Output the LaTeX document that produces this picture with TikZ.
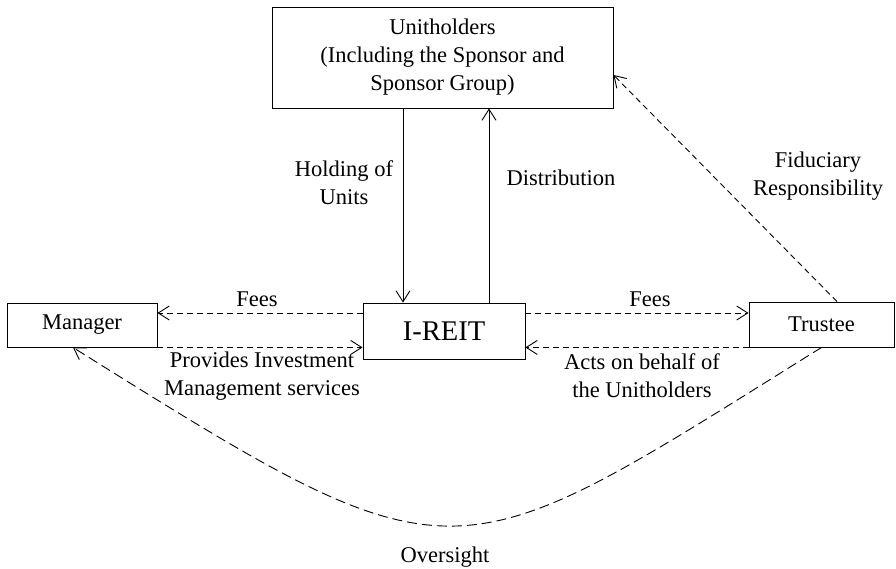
\documentclass[tikz,border=0pt]{standalone}
\usepackage{fontspec}
\setmainfont{Liberation Serif}
\usetikzlibrary{positioning,arrows.meta,calc}

\tikzset{
  box/.style={draw, line width=0.9pt, inner sep=0pt, align=center},
  arr/.style={line width=0.9pt, -{Straight Barb[length=11pt,width=14pt]}},
  darr/.style={arr, dash pattern=on 6pt off 4pt},
  ovarr/.style={arr, dash pattern=on 10pt off 5pt},
  lbl/.style={align=center}
}

\begin{document}
\begin{tikzpicture}[x=1pt, y=-1pt, font=\fontsize{22.5}{28}\selectfont]
    \useasboundingbox (0,0) rectangle (896,569);
    % parties
    \node[box, minimum width=341pt, minimum height=101pt] (uh) at (442.5,57.5)
      {Unitholders\\(Including the Sponsor and\\Sponsor Group)};
    \node[box, minimum width=162pt, minimum height=56pt, font=\fontsize{28.5}{30}\selectfont] (ireit) at (444,331) {I-REIT};
    \node[box, minimum width=150pt, minimum height=44pt] (mgr) at (82,325) {Manager};
    \node[box, minimum width=145pt, minimum height=45pt] (trustee) at (821.5,324.5) {Trustee};
    % unitholders <-> reit
    \coordinate (hold) at ([xshift=-41pt]ireit.north);
    \coordinate (dist) at ([xshift=45pt]ireit.north);
    \draw[arr] (hold |- uh.south) -- (hold);
    \draw[arr] (dist) -- (dist |- uh.south);
    \node[lbl] at (344,183) {Holding of\\Units};
    \node[lbl] at (561,178) {Distribution};
    % manager side
    \coordinate (feesL) at ([yshift=12pt]mgr.east);
    \draw[darr] (ireit.west |- feesL) -- (feesL);
    \draw[darr] (mgr.south east) -- (mgr.south east -| ireit.west);
    \node[lbl] at (257,299) {Fees};
    \node[lbl] at (262,376) {Provides Investment\\Management services};
    % trustee side
    \coordinate (feesR) at ([yshift=11.5pt]trustee.west);
    \draw[darr] (ireit.east |- feesR) -- (feesR);
    \draw[darr] (trustee.south west) -- (trustee.south west -| ireit.east);
    \node[lbl] at (650,299) {Fees};
    \node[lbl] at (642,376) {Acts on behalf of\\the Unitholders};
    % fiduciary
    \draw[darr] ([xshift=15.5pt]trustee.north) -- ([yshift=-17.5pt]uh.east);
    \node[lbl] at (818,176) {Fiduciary\\Responsibility};
    % oversight
    \draw[ovarr] (trustee.south) .. controls (448,580) and (462,591) .. ([xshift=-9pt]mgr.south);
    \node[lbl] at (445,557) {Oversight};
\end{tikzpicture}
\end{document}
